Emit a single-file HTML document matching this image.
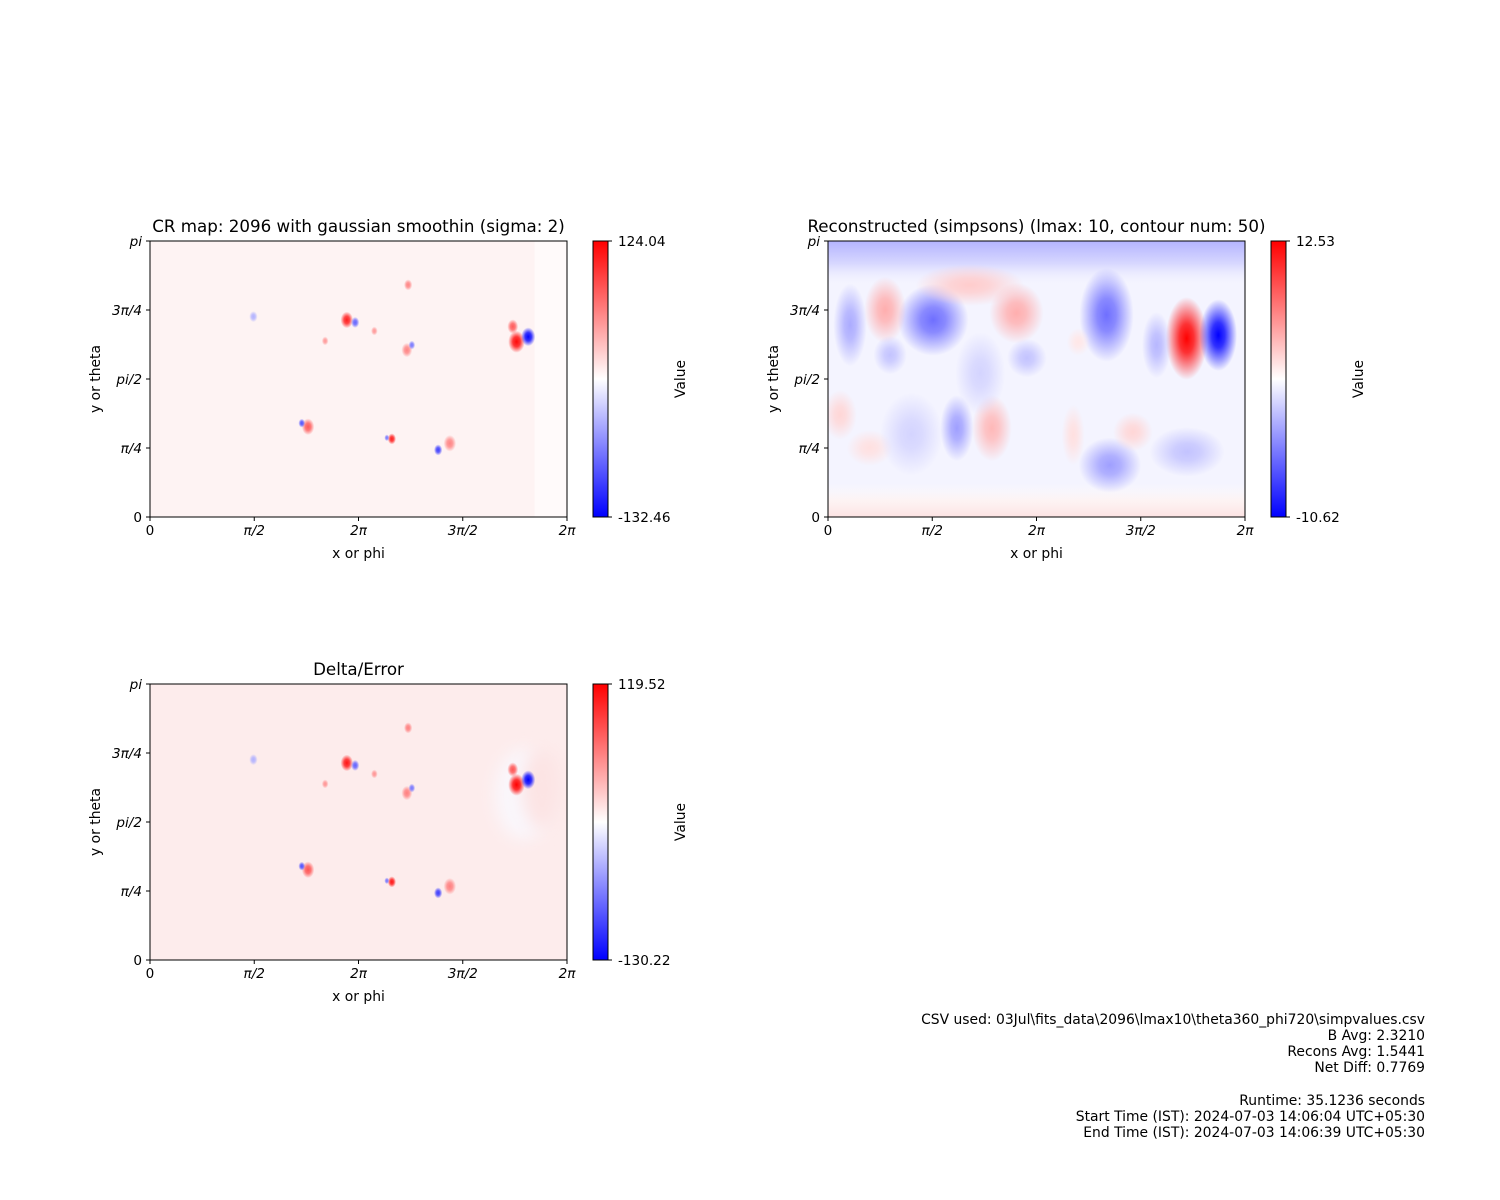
<!DOCTYPE html>
<html><head><meta charset="utf-8">
<style>
html,body{margin:0;padding:0;background:#fff;}
svg{display:block;font-family:"DejaVu Sans","Liberation Sans",sans-serif;}
</style></head>
<body>
<svg id="fig" width="1500" height="1200" viewBox="0 0 1500 1200" xmlns="http://www.w3.org/2000/svg">
<defs>
<filter id="soft" x="-50%" y="-50%" width="200%" height="200%"><feGaussianBlur stdDeviation="8"/></filter>
</defs>
<g id="info" font-size="13.9" text-anchor="end" fill="#000">
<text x="1425" y="1024">CSV used: 03Jul\fits_data\2096\lmax10\theta360_phi720\simpvalues.csv</text>
<text x="1425" y="1040">B Avg: 2.3210</text>
<text x="1425" y="1056">Recons Avg: 1.5441</text>
<text x="1425" y="1072">Net Diff: 0.7769</text>
<text x="1425" y="1105">Runtime: 35.1236 seconds</text>
<text x="1425" y="1121">Start Time (IST): 2024-07-03 14:06:04 UTC+05:30</text>
<text x="1425" y="1137">End Time (IST): 2024-07-03 14:06:39 UTC+05:30</text>
</g>
</svg>
<script>
// ---- data (phi, theta in units of pi; value; radii in units of pi) ----
const xTickLabels = ["0","π/2","2π","3π/2","2π"];
const xTickValues = [0,0.5,1,1.5,2];
const yTickLabels = ["0","π/4","pi/2","3π/4","pi"];
const yTickValues = [0,0.25,0.5,0.75,1];

const crPhi   = [0.944,0.984,1.758,1.740,1.814,0.758,0.728,1.160,1.136,1.438,1.382,1.238,1.232,1.256,0.496,0.840,1.076];
const crTheta = [0.714,0.705,0.635,0.690,0.653,0.327,0.340,0.283,0.287,0.267,0.243,0.841,0.605,0.623,0.726,0.638,0.674];
const crVal   = [110,-80,120,80,-130,80,-90,110,-70,60,-100,60,60,-70,-40,50,50];
const crSize  = [0.030,0.020,0.040,0.026,0.034,0.030,0.016,0.020,0.012,0.030,0.020,0.020,0.026,0.016,0.020,0.016,0.016];

const reconPhi   = [1.720,1.872,0.504,0.274,0.904,0.680,1.336,1.352,0.106,0.618,0.786,0.058,0.200,1.462,1.176,1.200,1.722,0.954,0.298,1.576,0.400,0.730];
const reconTheta = [0.647,0.659,0.714,0.750,0.739,0.840,0.732,0.188,0.696,0.322,0.322,0.370,0.250,0.308,0.297,0.634,0.236,0.576,0.587,0.623,0.300,0.520];
const reconVal   = [12.5,-10.6,-6,4,4,2.5,-6,-4,-3.5,-4,3.5,2,1.5,2,1.5,1.2,-2.5,-2.5,-2.5,-3,-1.8,-1.8];
const reconRx    = [0.100,0.090,0.170,0.100,0.130,0.260,0.130,0.150,0.080,0.080,0.095,0.080,0.110,0.095,0.055,0.055,0.180,0.095,0.080,0.070,0.150,0.120];
const reconRy    = [0.150,0.130,0.130,0.120,0.110,0.075,0.170,0.100,0.150,0.120,0.120,0.090,0.065,0.070,0.110,0.050,0.090,0.070,0.070,0.120,0.150,0.150];

const colorbars = [[-132.46,124.04],[-10.62,12.53],[-130.22,119.52]];

const NS = "http://www.w3.org/2000/svg";
const fig = document.getElementById('fig');
const defs = fig.querySelector('defs');
let gid = 0;
function mk(tag, attrs, parent){const e=document.createElementNS(NS,tag);for(const k in attrs)e.setAttribute(k,attrs[k]);(parent||fig).appendChild(e);return e;}
function bwr(v,vmin,vmax){let a;if(v>=0){a=Math.min(1,v/vmax);const c=Math.round(255*(1-a));return `rgb(255,${c},${c})`;}a=Math.min(1,v/vmin);const c=Math.round(255*(1-a));return `rgb(${c},${c},255)`;}

function panel(p){
  const W=417,H=276;
  const xs=v=>p.x+v/2*W, ys=v=>p.y+H-v*H;
  const g=mk('g',{});
  
  
  const cid='clip'+(gid++);
  const cp=mk('clipPath',{id:cid},defs); mk('rect',{x:p.x,y:p.y,width:W,height:H},cp);
  const img=mk('g',{'clip-path':`url(#${cid})`},g);
  
  
  mk('rect',{x:p.x,y:p.y,width:W,height:H,fill:p.bg},img);
  if(p.extra) p.extra(img,xs,ys,W,H);
  for(let i=0;i<p.phi.length;i++){
    const id='rg'+(gid++);
    const rg=mk('radialGradient',{id:id},defs);
    const col=bwr(p.val[i],p.vmin,p.vmax);
    mk('stop',{offset:'0','stop-color':col,'stop-opacity':1},rg);
    mk('stop',{offset:p.plateau||'0.45','stop-color':col,'stop-opacity':0.8},rg);
    mk('stop',{offset:'1','stop-color':col,'stop-opacity':0},rg);
    const e=mk('ellipse',{cx:xs(p.phi[i]),cy:ys(p.theta[i]),rx:p.rx[i]/2*W,ry:p.ry[i]*H,fill:`url(#${id})`},img);
    
    
  }
  mk('rect',{x:p.x,y:p.y,width:W,height:H,fill:'none',stroke:'#000','stroke-width':1},g);
  for(let i=0;i<xTickValues.length;i++){
    const X=xs(xTickValues[i]);
    mk('line',{x1:X,x2:X,y1:p.y+H,y2:p.y+H+4,stroke:'#000'},g);
    const t=mk('text',{x:X,y:p.y+H+18,'font-size':13.6,'text-anchor':'middle'},g);t.textContent=xTickLabels[i];
    if(i>0)t.setAttribute('font-style','italic');
  }
  for(let i=0;i<yTickValues.length;i++){
    const Y=ys(yTickValues[i]);
    mk('line',{x1:p.x-4,x2:p.x,y1:Y,y2:Y,stroke:'#000'},g);
    const t=mk('text',{x:p.x-8,y:Y+5,'font-size':13.6,'text-anchor':'end'},g);t.textContent=yTickLabels[i];
    if(i>0)t.setAttribute('font-style','italic');
  }
  const xl=mk('text',{x:p.x+W/2,y:p.y+H+41,'font-size':13.9,'text-anchor':'middle'},g);xl.textContent='x or phi';
  const yl=mk('text',{x:p.x-50,y:p.y+H/2,'font-size':13.9,'text-anchor':'middle',transform:`rotate(-90 ${p.x-50} ${p.y+H/2})`},g);yl.textContent='y or theta';
  const tt=mk('text',{x:p.x+W/2,y:p.y-9,'font-size':16.7,'text-anchor':'middle'},g);tt.textContent=p.title;
  const cx=p.x+443, lg='lg'+(gid++);
  const l=mk('linearGradient',{id:lg,x1:0,y1:0,x2:0,y2:1},defs);
  mk('stop',{offset:0,'stop-color':'rgb(255,0,0)'},l);mk('stop',{offset:0.5,'stop-color':'#fff'},l);mk('stop',{offset:1,'stop-color':'rgb(0,0,255)'},l);
  const cb=mk('rect',{x:cx,y:p.y,width:15,height:H,fill:`url(#${lg})`,stroke:'#000','stroke-width':1},g);
  
  
  mk('line',{x1:cx+15,x2:cx+19,y1:p.y,y2:p.y,stroke:'#000'},g);
  mk('line',{x1:cx+15,x2:cx+19,y1:p.y+H,y2:p.y+H,stroke:'#000'},g);
  let t=mk('text',{x:cx+25,y:p.y+5,'font-size':13.6},g);t.textContent=p.vmax.toFixed(2);
  t=mk('text',{x:cx+25,y:p.y+H+5,'font-size':13.6},g);t.textContent=p.vmin.toFixed(2);
  const vx=cx+92,vy=p.y+H/2;
  t=mk('text',{x:vx,y:vy,'font-size':13.9,'text-anchor':'middle',transform:`rotate(-90 ${vx} ${vy})`},g);t.textContent='Value';
}

panel({name:'cr-map-panel',x:150,y:241,bg:'rgb(254,243,243)',title:'CR map: 2096 with gaussian smoothin (sigma: 2)',
  phi:crPhi,theta:crTheta,val:crVal,rx:crSize,ry:crSize,vmin:colorbars[0][0],vmax:colorbars[0][1],
  extra:(img,xs,ys,W,H)=>{mk('rect',{x:xs(1.845),y:ys(1),width:W,height:H,fill:'rgb(255,250,250)'},img);}});
panel({name:'reconstructed-panel',x:828,y:241,bg:'rgb(244,244,255)',title:'Reconstructed (simpsons) (lmax: 10, contour num: 50)',plateau:'0.35',
  phi:reconPhi,theta:reconTheta,val:reconVal,rx:reconRx,ry:reconRy,vmin:colorbars[1][0],vmax:colorbars[1][1],
  extra:(img,xs,ys,W,H)=>{
    const id='tb'+(gid++);const l=mk('linearGradient',{id:id,x1:0,y1:0,x2:0,y2:1},defs);
    mk('stop',{offset:0,'stop-color':'rgb(180,180,255)'},l);mk('stop',{offset:0.5,'stop-color':'rgb(215,215,255)'},l);mk('stop',{offset:1,'stop-color':'rgb(244,244,255)','stop-opacity':0},l);
    mk('rect',{x:xs(0),y:ys(1),width:W,height:45,fill:`url(#${id})`},img);
    const id2='bb'+(gid++);const l2=mk('linearGradient',{id:id2,x1:0,y1:0,x2:0,y2:1},defs);
    mk('stop',{offset:0,'stop-color':'rgb(252,250,252)','stop-opacity':0},l2);mk('stop',{offset:0.5,'stop-color':'rgb(253,244,244)'},l2);mk('stop',{offset:1,'stop-color':'rgb(253,228,228)'},l2);
    mk('rect',{x:xs(0),y:ys(0)-34,width:W,height:34,fill:`url(#${id2})`},img);
  }});
panel({name:'delta-error-panel',x:150,y:684,bg:'rgb(253,236,236)',title:'Delta/Error',
  phi:crPhi,theta:crTheta,val:crVal,rx:crSize,ry:crSize,vmin:colorbars[2][0],vmax:colorbars[2][1],
  extra:(img,xs,ys,W,H)=>{
    mk('ellipse',{cx:xs(1.79),cy:ys(0.6),rx:28,ry:45,fill:'rgb(250,247,252)',filter:'url(#soft)'},img);
    mk('ellipse',{cx:xs(1.88),cy:ys(0.62),rx:20,ry:40,fill:'rgb(252,228,228)',filter:'url(#soft)'},img);
  }});
</script>
</body></html>
